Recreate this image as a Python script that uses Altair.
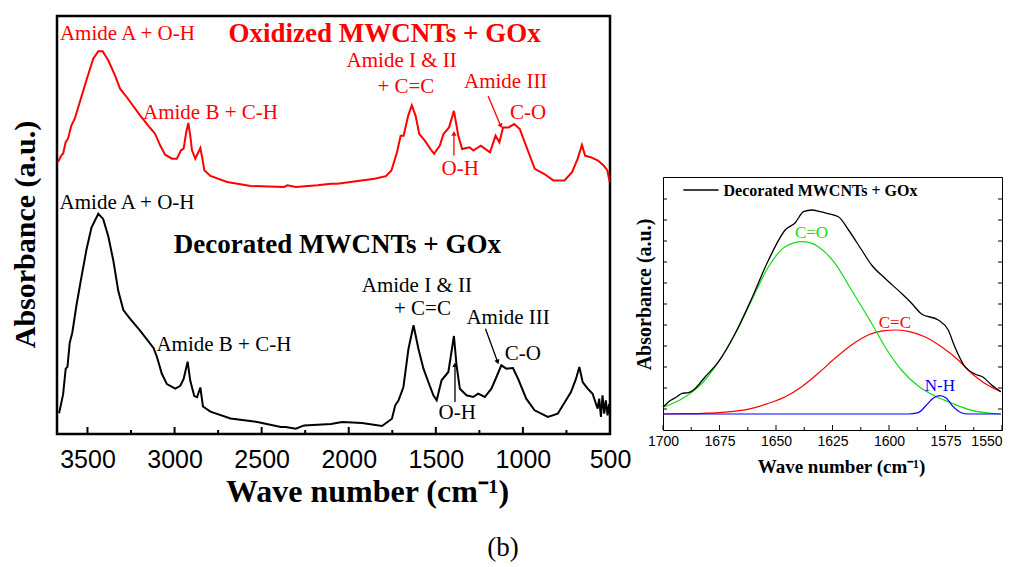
import altair as alt
import pandas as pd

# ---------------- left panel: FTIR spectra ----------------
black_wn = [3663, 3640, 3625, 3615, 3602, 3587, 3563, 3535, 3506, 3477, 3438, 3410, 3381, 3352,
            3323, 3294, 3256, 3198, 3121, 3102, 3073, 3044, 2996, 2967, 2948, 2925, 2910, 2887,
            2871, 2852, 2837, 2794, 2679, 2525, 2390, 2362, 2304, 2256, 2179, 2102, 2038, 1924,
            1809, 1752, 1733, 1714, 1686, 1657, 1628, 1600, 1571, 1543, 1514, 1495, 1467, 1428,
            1396, 1381, 1362, 1324, 1286, 1257, 1219, 1181, 1152, 1124, 1095, 1057, 1028, 981,
            933, 857, 800, 724, 695, 676, 657, 628, 600, 571, 562, 552, 543, 533, 524, 514, 505]
black_abs = [20.7, 39.6, 65.4, 67.1, 91.2, 101.5, 129, 156.6, 184.2, 206.5, 220.3, 215.1, 198, 173.8,
             142.9, 123.9, 115.3, 103.3, 86.1, 77.5, 60.2, 49.9, 45.4, 48.2, 55.1, 72.3, 53.4, 37.9,
             36.8, 46.5, 27.5, 22.4, 15.5, 12, 6.9, 6.9, 5.2, 8.6, 9.3, 10, 12, 11,
             8, 15.3, 28.7, 33.7, 47, 85.3, 108.7, 85.3, 65.3, 52, 38.7, 33.7, 53.7, 62,
             98, 68.7, 45.3, 38.7, 37, 40.3, 37, 45.3, 57, 68.7, 65.3, 66, 55.3, 35.3,
             23.7, 17, 20.3, 42, 55.3, 67, 52, 45.3, 40.3, 25.3, 35.3, 17, 38.7, 20.3, 33.7, 18.7, 30]

red_wn = [3669, 3650, 3640, 3625, 3612, 3592, 3573, 3544, 3506, 3467, 3438, 3413, 3381, 3342, 3313,
          3275, 3198, 3140, 3112, 3083, 3054, 3015, 2987, 2963, 2948, 2933, 2921, 2910, 2900, 2881,
          2852, 2842, 2829, 2794, 2698, 2563, 2371, 2352, 2304, 2179, 2102, 2065, 1852, 1787, 1755,
          1723, 1702, 1685, 1659, 1638, 1616, 1595, 1563, 1531, 1510, 1477, 1456, 1424, 1396, 1371,
          1349, 1306, 1285, 1242, 1189, 1157, 1135, 1114, 1082, 1050, 1018, 975, 932, 879, 825,
          761, 718, 686, 661, 643, 611, 569, 537, 515, 502]
red_abs = [272, 278.7, 280.3, 292, 295.3, 308.7, 315.3, 332, 353.7, 375.3, 382.7, 382.7, 373.7, 358.7, 345.3,
           337, 318.7, 306, 300.3, 288.7, 279.3, 275.3, 275.3, 283.7, 285.3, 302, 311, 298.7, 283.7, 275.3,
           286, 277, 263.7, 258, 252, 248, 247, 248.7, 247, 248.7, 250.3, 250.3, 255.3, 257.9, 263.5,
           281.8, 298.3, 298.3, 318.2, 328.8, 318.2, 300, 293.3, 285, 280.1, 288.4, 300, 306.6, 323.1, 298.3,
           285, 286.7, 283.4, 288.4, 281.7, 298.3, 291.7, 306.6, 306.6, 309.9, 304.9, 285, 265.2, 260.2, 253.6,
           253.6, 261.9, 275.1, 289, 278.4, 276.8, 273.5, 268.5, 263.5, 252]

left_major_ticks = [3500, 3000, 2500, 2000, 1500, 1000, 500]
left_minor_ticks = [3250, 2750, 2250, 1750, 1250, 750]

band_labels = ["Amide A + O-H", "Amide B + C-H", "Amide I & II", "+ C=C", "Amide III", "C-O", "O-H"]
red_label_wn = [3271, 2794, 1696, 1672, 1099, 971, 1360]
red_label_abs = [393.7, 315.3, 367.1, 340.7, 346.3, 315.5, 259.2]
black_label_wn = [3273, 2717, 1609, 1577, 1085, 1000, 1377]
black_label_abs = [225.5, 82.6, 142, 118.7, 110.3, 73.7, 15.3]

sample_names = ["Oxidized MWCNTs + GOx", "Decorated MWCNTs + GOx"]
sample_colors = ["#ff0000", "#000000"]
sample_name_wn = [1794, 2065]
sample_name_abs = [391.6, 180.7]

# arrows: start -> end (head at end)
arrow_wn1 = [1396, 1200, 1390, 1215]
arrow_abs1 = [278.5, 338, 32, 105.3]
arrow_wn2 = [1396, 1127, 1390, 1145]
arrow_abs2 = [300.6, 308, 69.3, 72]
arrow_angle = [0, 157, 0, 160]
arrow_color = ["#ff0000", "#ff0000", "#000000", "#000000"]

# ---------------- right panel: deconvolution ----------------
meas_wn = [1700, 1697.5, 1693.8, 1691.6, 1688.7, 1686.5, 1681.3, 1675.4, 1668, 1660.7, 1653.3, 1645.9,
           1641.5, 1637.8, 1634.1, 1630.4, 1627.5, 1622.4, 1617.9, 1612.1, 1607.7, 1601.8, 1594.5,
           1590, 1585.6, 1578.2, 1573.8, 1570.9, 1566.4, 1562, 1558.3, 1554.6, 1550.5]
meas_abs = [22.7, 28.3, 33.3, 36.7, 37.3, 40, 53.3, 68.3, 96.7, 131.7, 170, 200,
            207.3, 218.3, 220, 218.3, 216.7, 213.3, 200, 180, 165, 151.7, 136.7,
            126.7, 116, 110, 100, 83.3, 63.3, 56, 52.7, 45, 38.3]
co_wn = [1700, 1690.1, 1682.7, 1675.4, 1668, 1660.7, 1653.3, 1645.9, 1638.2, 1631.3, 1623.9, 1616.6,
         1607.7, 1601.8, 1594.5, 1587.1, 1579.7, 1572.4, 1565, 1557.7, 1550.5]
co_abs = [22.7, 33.3, 46.7, 68.3, 96.7, 130, 163.3, 183.3, 188.3, 183.3, 166.7, 140,
          106.7, 83.3, 60, 44, 34, 27, 20.7, 17.3, 16]
cc_wn = [1700, 1690, 1682, 1675.4, 1660.7, 1653.3, 1645.9, 1638.6, 1631.3, 1623.9, 1616.6, 1609.2,
         1601.8, 1597.4, 1591.5, 1584.2, 1576.8, 1569.4, 1563.5, 1557.7, 1550.5]
cc_abs = [16, 16.3, 16.7, 17.3, 21.7, 26.7, 33.3, 43.3, 56.7, 71.7, 85, 95,
          99.3, 100, 98.7, 93.3, 83.3, 70, 56.7, 46.7, 38.3]
nh_wn = [1700, 1591.5, 1587.1, 1583.4, 1580.5, 1577.5, 1574.6, 1571.6, 1568, 1565, 1550.5]
nh_abs = [16, 16, 17.3, 25, 31.7, 34.3, 31.7, 23.3, 17.3, 16, 16]

right_major_ticks = [1700, 1675, 1650, 1625, 1600, 1575, 1550]
right_minor_ticks = [1687.5, 1662.5, 1637.5, 1612.5, 1587.5, 1562.5]
right_y_ticks = [21, 42, 63, 84, 105, 126, 147, 168, 189, 210, 231]

peak_names = ["C=O", "C=C", "N-H"]
peak_colors = ["#11dd11", "#ff0000", "#0000ff"]
peak_label_wn = [1634.3, 1597.4, 1577.5]
peak_label_abs = [191.7, 102.3, 39.3]

legend_text = "Decorated MWCNTs + GOx"
caption = "(b)"

SERIF = "Liberation Serif"
SANS = "Liberation Sans"

# ================= left chart =================
LW, LH = 553, 418
xl = alt.X("wn:Q",
           scale=alt.Scale(domain=[500, 3675], reverse=True, nice=False, zero=False),
           axis=alt.Axis(values=left_major_ticks, format="d", ticks=False, domain=False, grid=False,
                         labelFont=SANS, labelFontSize=25, labelColor="black", labelPadding=13,
                         labelFlush=False,
                         title="Wave number (cm⁻¹)", titleFont=SERIF, titleFontSize=32,
                         titleFontWeight="bold", titleColor="black",
                         titleX=310, titleY=67, titleBaseline="alphabetic", titleAlign="center"))
yl = alt.Y("v:Q",
           scale=alt.Scale(domain=[0, 418], nice=False, zero=False),
           axis=alt.Axis(labels=False, ticks=False, domain=False, grid=False,
                         title="Absorbance (a.u.)", titleFont=SERIF, titleFontSize=30,
                         titleFontWeight="bold", titleColor="black", titlePadding=17,
                         titleY=218, titleAlign="center"))

df_black = pd.DataFrame({"wn": black_wn, "v": black_abs})
df_red = pd.DataFrame({"wn": red_wn, "v": red_abs})
df_lmaj = pd.DataFrame({"wn": left_major_ticks})
df_lmin = pd.DataFrame({"wn": left_minor_ticks})
df_rlab = pd.DataFrame({"wn": red_label_wn, "v": red_label_abs, "t": band_labels})
df_blab = pd.DataFrame({"wn": black_label_wn, "v": black_label_abs, "t": band_labels})
df_names = pd.DataFrame({"wn": sample_name_wn, "v": sample_name_abs, "t": sample_names, "c": sample_colors})
df_arrow = pd.DataFrame({"wn": arrow_wn1, "v": arrow_abs1, "wn2": arrow_wn2, "v2": arrow_abs2,
                         "ang": arrow_angle, "c": arrow_color})
df_cap = pd.DataFrame({"t": [caption]})

l_black = alt.Chart(df_black).mark_line(color="black", strokeWidth=2).encode(x=xl, y=yl)
l_red = alt.Chart(df_red).mark_line(color="#ff0000", strokeWidth=2).encode(x=xl, y=yl)
l_tmaj = alt.Chart(df_lmaj).mark_rule(color="black", strokeWidth=2).encode(
    x=xl, y=alt.value(LH), y2=alt.value(LH - 7))
l_tmin = alt.Chart(df_lmin).mark_rule(color="black", strokeWidth=2).encode(
    x=xl, y=alt.value(LH), y2=alt.value(LH - 4))
l_rlab = alt.Chart(df_rlab).mark_text(font=SERIF, fontSize=21, color="#ff0000",
                                      baseline="alphabetic", align="center").encode(x=xl, y=yl, text="t:N")
l_blab = alt.Chart(df_blab).mark_text(font=SERIF, fontSize=21, color="black",
                                      baseline="alphabetic", align="center").encode(x=xl, y=yl, text="t:N")
l_names = alt.Chart(df_names).mark_text(font=SERIF, fontSize=27, fontWeight="bold",
                                        baseline="alphabetic", align="center").encode(
    x=xl, y=yl, text="t:N", color=alt.Color("c:N", scale=None))
l_arrow = alt.Chart(df_arrow).mark_rule(strokeWidth=1.3).encode(
    x=xl, y=yl, x2="wn2:Q", y2="v2:Q", color=alt.Color("c:N", scale=None))
l_head = alt.Chart(df_arrow).mark_point(shape="triangle-up", filled=True, size=28, opacity=1).encode(
    x=alt.X("wn2:Q", scale=alt.Scale(domain=[500, 3675], reverse=True, nice=False, zero=False)),
    y=alt.Y("v2:Q", scale=alt.Scale(domain=[0, 418], nice=False, zero=False)),
    angle=alt.Angle("ang:Q", scale=None),
    color=alt.Color("c:N", scale=None))
l_cap = alt.Chart(df_cap).mark_text(font=SERIF, fontSize=27, color="black",
                                    baseline="alphabetic", align="center").encode(
    x=alt.value(446), y=alt.value(539.5), text="t:N")

left = alt.layer(l_red, l_black, l_tmaj, l_tmin, l_rlab, l_blab, l_names, l_arrow, l_head, l_cap).properties(
    width=LW, height=LH, view=alt.ViewBackground(stroke="black", strokeWidth=2.5))

# ================= right chart =================
RW, RH = 339, 253
xr = alt.X("wn:Q",
           scale=alt.Scale(domain=[1550, 1700], reverse=True, nice=False, zero=False),
           axis=alt.Axis(values=right_major_ticks, format="d", ticks=False, domain=False, grid=False,
                         labelFont=SANS, labelFontSize=14, labelColor="black", labelPadding=4,
                         labelFlush=False,
                         labelAlign={"condition": {"test": "datum.value == 1550", "value": "right"},
                                     "value": "center"},
                         title="Wave number (cm⁻¹)", titleFont=SERIF, titleFontSize=19,
                         titleFontWeight="bold", titleColor="black",
                         titleX=178, titleY=42, titleBaseline="alphabetic", titleAlign="center"))
yr = alt.Y("v:Q",
           scale=alt.Scale(domain=[0, 253], nice=False, zero=False),
           axis=alt.Axis(labels=False, ticks=False, domain=False, grid=False,
                         title="Absorbance (a.u.)", titleFont=SERIF, titleFontSize=20,
                         titleFontWeight="bold", titleColor="black", titlePadding=9,
                         titleY=117, titleAlign="center"))

df_meas = pd.DataFrame({"wn": meas_wn, "v": meas_abs})
df_co = pd.DataFrame({"wn": co_wn, "v": co_abs})
df_cc = pd.DataFrame({"wn": cc_wn, "v": cc_abs})
df_nh = pd.DataFrame({"wn": nh_wn, "v": nh_abs})
df_rmaj = pd.DataFrame({"wn": right_major_ticks})
df_rmin = pd.DataFrame({"wn": right_minor_ticks})
df_ryt = pd.DataFrame({"v": right_y_ticks})
df_plab = pd.DataFrame({"wn": peak_label_wn, "v": peak_label_abs, "t": peak_names, "c": peak_colors})
df_leg_line = pd.DataFrame({"wn": [1691], "wn2": [1675.4], "v": [240]})
df_leg_text = pd.DataFrame({"wn": [1673.2], "v": [234], "t": [legend_text]})

r_co = alt.Chart(df_co).mark_line(color="#11dd11", strokeWidth=1.2, interpolate="monotone").encode(x=xr, y=yr)
r_cc = alt.Chart(df_cc).mark_line(color="#ff0000", strokeWidth=1.2, interpolate="monotone").encode(x=xr, y=yr)
r_nh = alt.Chart(df_nh).mark_line(color="#0000ff", strokeWidth=1.2, interpolate="monotone").encode(x=xr, y=yr)
r_meas = alt.Chart(df_meas).mark_line(color="black", strokeWidth=1.3, interpolate="monotone").encode(x=xr, y=yr)
r_tmaj = alt.Chart(df_rmaj).mark_rule(color="black", strokeWidth=1).encode(
    x=xr, y=alt.value(RH), y2=alt.value(RH - 5))
r_tmin = alt.Chart(df_rmin).mark_rule(color="black", strokeWidth=1).encode(
    x=xr, y=alt.value(RH), y2=alt.value(RH - 3))
r_ytl = alt.Chart(df_ryt).mark_rule(color="black", strokeWidth=1).encode(
    y=yr, x=alt.value(0), x2=alt.value(4))
r_ytr = alt.Chart(df_ryt).mark_rule(color="black", strokeWidth=1).encode(
    y=yr, x=alt.value(RW - 4), x2=alt.value(RW))
r_plab = alt.Chart(df_plab).mark_text(font=SERIF, fontSize=17, baseline="alphabetic", align="center").encode(
    x=xr, y=yr, text="t:N", color=alt.Color("c:N", scale=None))
r_legl = alt.Chart(df_leg_line).mark_rule(color="black", strokeWidth=1.3).encode(x=xr, x2="wn2:Q", y=yr)
r_legt = alt.Chart(df_leg_text).mark_text(font=SERIF, fontSize=16, fontWeight="bold", color="black",
                                          baseline="alphabetic", align="left").encode(x=xr, y=yr, text="t:N")

right = alt.layer(r_cc, r_co, r_nh, r_meas, r_tmaj, r_tmin, r_ytl, r_ytr, r_plab, r_legl, r_legt).properties(
    width=RW, height=RH, view=alt.ViewBackground(stroke="black", strokeWidth=1))

spacer = alt.Chart(pd.DataFrame({"s": [0]})).mark_point(opacity=0, size=1).encode(
    x=alt.value(1), y=alt.value(1)).properties(
    width=RW, height=160, view=alt.ViewBackground(strokeOpacity=0))

chart = alt.hconcat(left, alt.vconcat(spacer, right, spacing=0), spacing=0).properties(
    padding={"left": 0, "top": 6, "right": 0, "bottom": 0})

chart.save("out.html", embed_options={"renderer": "svg", "actions": False})
